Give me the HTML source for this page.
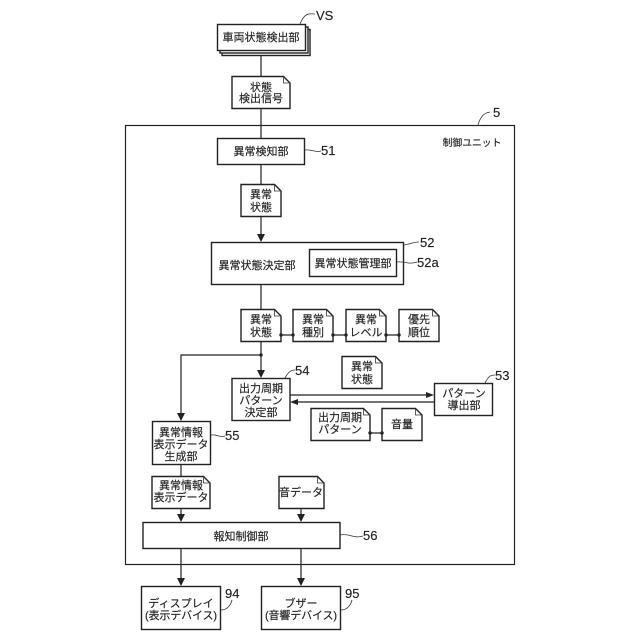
<!DOCTYPE html>
<html><head><meta charset="utf-8"><style>
html,body{margin:0;padding:0;background:#fff}
svg{display:block}
text{font-family:"Liberation Sans","Noto Sans CJK JP",sans-serif;font-size:11px;fill:#222;stroke:#222;stroke-width:.15;text-anchor:middle}
.n{font-size:13px;text-anchor:start}
.u{font-size:9.8px}
.s{fill:#fff;stroke:#222;stroke-width:1.4}
.l{fill:none;stroke:#222;stroke-width:1.2}
.c{fill:none;stroke:#333;stroke-width:.8}
.a{fill:#222;stroke:none}
</style></head><body>
<svg width="640" height="640" viewBox="0 0 640 640" xmlns="http://www.w3.org/2000/svg">
<rect x="125.500" y="125.500" width="389" height="439" fill="#fff" stroke="#222" stroke-width="1.2"/>

<!-- main lines -->
<path class="l" d="M261 50V76M261 108V138M261 164V184M261 216V235M261 284V309M261 341V372M261 355H181V415M181 465V476M181 508V516M301 508V516M181 549V580M301 549V580"/>
<path class="l" d="M290 395H428M296 402H434"/>
<path class="l" d="M281 335H293M333 335H346M386 335H399M370 433H382"/>

<!-- arrowheads -->
<path class="a" d="M257 234H265L261 242ZM257 370H265L261 378ZM177 413H185L181 421ZM177 514H185L181 522ZM297 514H305L301 522ZM177 578H185L181 586ZM297 578H305L301 586ZM426 392V398L434 395ZM298 399V405L290 402Z"/>

<!-- VS stack -->
<rect class="s" x="222" y="29.500" width="88" height="26"/>
<rect class="s" x="220" y="27" width="88" height="26"/>
<rect class="s" x="217.500" y="24.500" width="88" height="26"/>
<text x="261" y="41">車両状態検出部</text>
<path class="c" d="M300 24C304 14 308 13 315 14"/>
<text class="n" x="316" y="20">VS</text>

<!-- documents -->
<g>
<path class="s" d="M232 76.500H283.500L290 83V108.500H232Z"/><path class="c" d="M283.500 76.500V83H290"/>
<text x="261" y="91">状態</text><text x="261" y="102">検出信号</text>

<path class="s" d="M241 184.500H274.500L281 191V216.500H241Z"/><path class="c" d="M274.500 184.500V191H281"/>
<text x="261" y="198">異常</text><text x="261" y="211">状態</text>

<path class="s" d="M241 309.500H274.500L281 316V341.500H241Z"/><path class="c" d="M274.500 309.500V316H281"/>
<text x="261" y="323">異常</text><text x="261" y="336">状態</text>

<path class="s" d="M293 309.500H326.500L333 316V341.500H293Z"/><path class="c" d="M326.500 309.500V316H333"/>
<text x="313" y="323">異常</text><text x="313" y="336">種別</text>

<path class="s" d="M346 309.500H379.500L386 316V341.500H346Z"/><path class="c" d="M379.500 309.500V316H386"/>
<text x="366" y="323">異常</text><text x="366" y="336">レベル</text>

<path class="s" d="M399 309.500H432.500L439 316V341.500H399Z"/><path class="c" d="M432.500 309.500V316H439"/>
<text x="419" y="323">優先</text><text x="419" y="336">順位</text>

<path class="s" d="M342 356.500H375.500L382 363V388.500H342Z"/><path class="c" d="M375.500 356.500V363H382"/>
<text x="362" y="370">異常</text><text x="362" y="383">状態</text>

<path class="s" d="M311 408.500H363.500L370 415V440.500H311Z"/><path class="c" d="M363.500 408.500V415H370"/>
<text x="340" y="421">出力周期</text><text x="340" y="433">パターン</text>

<path class="s" d="M382 408.500H415.500L422 415V440.500H382Z"/><path class="c" d="M415.500 408.500V415H422"/>
<text x="402" y="428">音量</text>

<path class="s" d="M152 476.500H203.500L210 483V508.500H152Z"/><path class="c" d="M203.500 476.500V483H210"/>
<text x="181" y="489">異常情報</text><text x="181" y="501">表示データ</text>

<path class="s" d="M279 476.500H317.500L324 483V508.500H279Z"/><path class="c" d="M317.500 476.500V483H324"/>
<text x="301" y="496">音データ</text>
</g>

<!-- dots -->
<g class="a">
<circle cx="281" cy="335" r="1.700"/><circle cx="293" cy="335" r="1.700"/><circle cx="333" cy="335" r="1.700"/><circle cx="346" cy="335" r="1.700"/><circle cx="386" cy="335" r="1.700"/><circle cx="399" cy="335" r="1.700"/><circle cx="261" cy="355" r="1.700"/><circle cx="370" cy="433" r="1.700"/><circle cx="382" cy="433" r="1.700"/>
</g>

<!-- boxes -->
<rect class="s" x="217.500" y="138.500" width="87" height="26"/>
<text x="261" y="155">異常検知部</text>

<rect class="s" x="211.500" y="242.500" width="192" height="42"/>
<text x="257" y="269">異常状態決定部</text>
<rect class="s" x="309.500" y="249.500" width="87" height="27"/>
<text x="353" y="267">異常状態管理部</text>

<rect class="s" x="232" y="378.500" width="58" height="42"/>
<text x="261" y="392">出力周期</text><text x="261" y="404">パターン</text><text x="261" y="416">決定部</text>

<rect class="s" x="434.500" y="383.500" width="58" height="32"/>
<text x="464" y="397">パターン</text><text x="464" y="409">導出部</text>

<rect class="s" x="152.500" y="421.500" width="58" height="43"/>
<text x="181" y="436">異常情報</text><text x="181" y="448">表示データ</text><text x="181" y="460">生成部</text>

<rect class="s" x="143" y="522.500" width="197" height="26"/>
<text x="241" y="540">報知制御部</text>

<rect class="s" x="141.500" y="586.500" width="79" height="43"/>
<text x="181" y="607">ディスプレイ</text><text x="181" y="619" textLength="72">(表示デバイス)</text>

<rect class="s" x="261.500" y="586.500" width="79" height="43"/>
<text x="301" y="607">ブザー</text><text x="301" y="619" textLength="72">(音響デバイス)</text>

<!-- labels and leaders -->
<text class="u" x="472" y="146">制御ユニット</text>
<path class="c" d="M478 125C480 118 483 113 490 112"/><text class="n" x="493" y="117">5</text>
<path class="c" d="M305 150C312 149 315 153 321 151"/><text class="n" x="321" y="155">51</text>
<path class="c" d="M404 245C410 244 414 242 419 242"/><text class="n" x="420" y="247">52</text>
<path class="c" d="M397 262C405 261 408 265 417 262"/><text class="n" x="417" y="267">52a</text>
<path class="c" d="M285 378C288 372 291 370 295 370"/><text class="n" x="295" y="375">54</text>
<path class="c" d="M485 383C488 377 490 375 495 375"/><text class="n" x="495" y="380">53</text>
<path class="c" d="M211 435C218 434 220 438 225 436"/><text class="n" x="225" y="440">55</text>
<path class="c" d="M340 535C350 533 353 539 363 536"/><text class="n" x="363" y="540">56</text>
<path class="c" d="M221 610C228 610 231 604 232 600"/><text class="n" x="225" y="598">94</text>
<path class="c" d="M341 610C348 610 351 604 352 600"/><text class="n" x="345" y="598">95</text>
</svg>
</body></html>
